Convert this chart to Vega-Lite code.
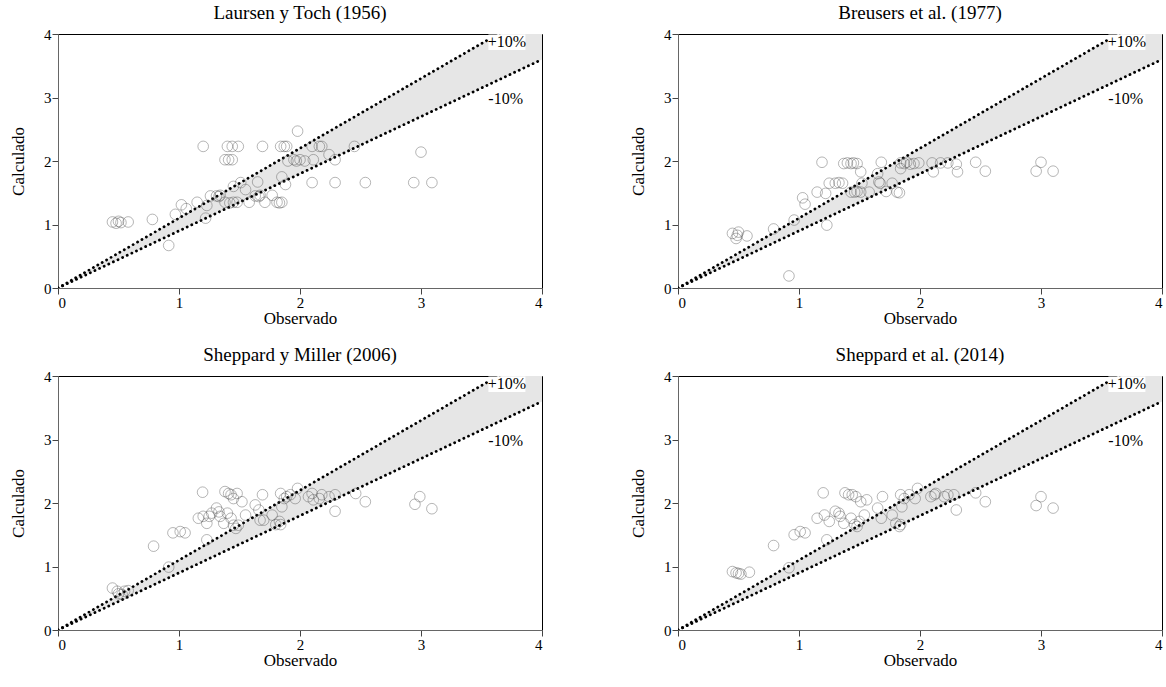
{
  "$schema": "https://vega.github.io/schema/vega-lite/v6.json",
  "padding": {"left": 9, "top": 3, "right": 0, "bottom": 0},
  "background": "white",
  "config": {
    "font": "Liberation Serif",
    "view": {"stroke": "black", "strokeWidth": 1},
    "title": {"font": "Liberation Serif", "fontSize": 19, "fontWeight": "normal", "color": "black", "offset": 4},
    "axis": {"labelFont": "Liberation Serif", "titleFont": "Liberation Serif", "labelFontSize": 15, "titleFontSize": 17, "titleFontWeight": "normal", "labelColor": "black", "titleColor": "black", "domainColor": "#666", "tickColor": "#444", "grid": false, "tickSize": 6, "labelPadding": 1, "format": "d"},
    "axisX": {"titlePadding": 0},
    "axisY": {"titlePadding": 16}
  },
  "datasets": {
    "band": [{"x": 0, "lo": 0, "hi": 0}, {"x": 4, "lo": 3.6, "hi": 4.4}],
    "lines": [{"s": "+10%", "x": 0, "y": 0}, {"s": "+10%", "x": 4, "y": 4.4}, {"s": "-10%", "x": 0, "y": 0}, {"s": "-10%", "x": 4, "y": 3.6}],
    "labels": [{"lab": "+10%", "x": 3.71, "y": 3.87}, {"lab": "-10%", "x": 3.70, "y": 2.97}],
    "ly": [
      {"x":0.45,"y":1.04},{"x":0.48,"y":1.02},{"x":0.50,"y":1.05},{"x":0.52,"y":1.03},{"x":0.58,"y":1.04},
      {"x":0.78,"y":1.08},{"x":0.915,"y":0.67},{"x":0.97,"y":1.16},{"x":1.02,"y":1.31},{"x":1.06,"y":1.25},
      {"x":1.15,"y":1.35},{"x":1.22,"y":1.10},{"x":1.23,"y":1.30},{"x":1.26,"y":1.45},{"x":1.31,"y":1.45},
      {"x":1.33,"y":1.44},{"x":1.34,"y":1.46},{"x":1.38,"y":1.35},{"x":1.42,"y":1.34},{"x":1.45,"y":1.35},
      {"x":1.48,"y":1.35},{"x":1.45,"y":1.60},{"x":1.51,"y":1.66},{"x":1.55,"y":1.55},{"x":1.58,"y":1.35},
      {"x":1.63,"y":1.45},{"x":1.66,"y":1.44},{"x":1.67,"y":1.46},{"x":1.65,"y":1.67},{"x":1.71,"y":1.35},
      {"x":1.77,"y":1.46},{"x":1.81,"y":1.35},{"x":1.83,"y":1.34},{"x":1.85,"y":1.35},{"x":1.85,"y":1.75},
      {"x":1.88,"y":1.63},{"x":1.20,"y":2.23},{"x":1.40,"y":2.23},{"x":1.44,"y":2.23},{"x":1.49,"y":2.23},
      {"x":1.38,"y":2.02},{"x":1.41,"y":2.02},{"x":1.44,"y":2.02},{"x":1.69,"y":2.23},{"x":1.84,"y":2.23},
      {"x":1.87,"y":2.23},{"x":1.89,"y":2.23},{"x":1.98,"y":2.47},{"x":1.90,"y":2.00},{"x":1.95,"y":2.02},
      {"x":1.97,"y":2.00},{"x":2.00,"y":2.02},{"x":2.10,"y":2.23},{"x":2.16,"y":2.23},{"x":2.18,"y":2.23},
      {"x":2.11,"y":2.02},{"x":2.04,"y":2.00},{"x":2.24,"y":2.10},{"x":2.29,"y":2.02},{"x":2.10,"y":1.66},
      {"x":2.29,"y":1.66},{"x":2.54,"y":1.66},{"x":2.45,"y":2.23},{"x":3.00,"y":2.14},{"x":2.94,"y":1.66},
      {"x":3.09,"y":1.66}
    ],
    "br": [
      {"x":0.45,"y":0.86},{"x":0.49,"y":0.83},{"x":0.48,"y":0.78},{"x":0.50,"y":0.88},{"x":0.57,"y":0.82},
      {"x":0.79,"y":0.93},{"x":0.917,"y":0.19},{"x":0.96,"y":1.07},{"x":1.03,"y":1.42},{"x":1.05,"y":1.32},
      {"x":1.15,"y":1.51},{"x":1.19,"y":1.98},{"x":1.22,"y":1.49},{"x":1.23,"y":0.99},{"x":1.25,"y":1.65},
      {"x":1.30,"y":1.65},{"x":1.33,"y":1.66},{"x":1.36,"y":1.65},{"x":1.37,"y":1.96},{"x":1.40,"y":1.97},
      {"x":1.43,"y":1.96},{"x":1.45,"y":1.97},{"x":1.48,"y":1.96},{"x":1.43,"y":1.51},{"x":1.46,"y":1.51},
      {"x":1.48,"y":1.52},{"x":1.51,"y":1.51},{"x":1.51,"y":1.83},{"x":1.52,"y":1.65},{"x":1.58,"y":1.51},
      {"x":1.68,"y":1.98},{"x":1.66,"y":1.67},{"x":1.67,"y":1.65},{"x":1.65,"y":1.80},{"x":1.72,"y":1.52},
      {"x":1.77,"y":1.65},{"x":1.81,"y":1.51},{"x":1.83,"y":1.50},{"x":1.84,"y":1.97},{"x":1.87,"y":1.96},
      {"x":1.89,"y":1.98},{"x":1.92,"y":1.95},{"x":1.95,"y":1.96},{"x":1.99,"y":1.97},{"x":1.84,"y":1.88},
      {"x":2.10,"y":1.97},{"x":2.11,"y":1.83},{"x":2.17,"y":1.97},{"x":2.23,"y":1.97},{"x":2.30,"y":1.95},
      {"x":2.31,"y":1.83},{"x":2.46,"y":1.98},{"x":2.54,"y":1.84},{"x":3.00,"y":1.98},{"x":2.96,"y":1.84},
      {"x":3.10,"y":1.84}
    ],
    "sm": [
      {"x":0.45,"y":0.66},{"x":0.49,"y":0.61},{"x":0.50,"y":0.57},{"x":0.53,"y":0.56},{"x":0.55,"y":0.61},
      {"x":0.58,"y":0.62},{"x":0.79,"y":1.32},{"x":0.915,"y":0.99},{"x":0.95,"y":1.53},{"x":1.01,"y":1.55},
      {"x":1.05,"y":1.53},{"x":1.16,"y":1.76},{"x":1.20,"y":1.79},{"x":1.23,"y":1.68},{"x":1.25,"y":1.79},
      {"x":1.195,"y":2.17},{"x":1.23,"y":1.42},{"x":1.27,"y":1.84},{"x":1.31,"y":1.92},{"x":1.33,"y":1.86},
      {"x":1.34,"y":1.79},{"x":1.37,"y":1.68},{"x":1.38,"y":2.18},{"x":1.41,"y":2.15},{"x":1.43,"y":2.13},
      {"x":1.45,"y":2.07},{"x":1.48,"y":2.15},{"x":1.52,"y":2.02},{"x":1.40,"y":1.84},{"x":1.43,"y":1.76},
      {"x":1.45,"y":1.65},{"x":1.47,"y":1.60},{"x":1.49,"y":1.65},{"x":1.55,"y":1.81},{"x":1.63,"y":1.97},
      {"x":1.66,"y":1.89},{"x":1.67,"y":1.73},{"x":1.69,"y":2.13},{"x":1.70,"y":1.73},{"x":1.77,"y":1.81},
      {"x":1.80,"y":1.66},{"x":1.83,"y":1.71},{"x":1.84,"y":1.66},{"x":1.84,"y":2.15},{"x":1.87,"y":2.07},
      {"x":1.89,"y":2.10},{"x":1.92,"y":2.13},{"x":1.98,"y":2.23},{"x":1.96,"y":2.07},{"x":1.85,"y":1.94},
      {"x":2.07,"y":2.10},{"x":2.10,"y":2.15},{"x":2.11,"y":2.05},{"x":2.16,"y":2.07},{"x":2.18,"y":2.13},
      {"x":2.24,"y":2.10},{"x":2.29,"y":2.13},{"x":2.29,"y":1.87},{"x":2.46,"y":2.15},{"x":2.54,"y":2.02},
      {"x":2.95,"y":1.98},{"x":2.99,"y":2.10},{"x":3.09,"y":1.91}
    ],
    "sh": [
      {"x":0.45,"y":0.92},{"x":0.48,"y":0.90},{"x":0.50,"y":0.89},{"x":0.52,"y":0.88},{"x":0.59,"y":0.91},
      {"x":0.79,"y":1.33},{"x":0.917,"y":0.98},{"x":0.96,"y":1.50},{"x":1.01,"y":1.55},{"x":1.05,"y":1.53},
      {"x":1.15,"y":1.76},{"x":1.21,"y":1.81},{"x":1.23,"y":1.42},{"x":1.25,"y":1.71},{"x":1.20,"y":2.16},
      {"x":1.30,"y":1.87},{"x":1.33,"y":1.84},{"x":1.34,"y":1.79},{"x":1.37,"y":1.68},{"x":1.38,"y":2.16},
      {"x":1.41,"y":2.13},{"x":1.44,"y":2.13},{"x":1.47,"y":2.10},{"x":1.51,"y":2.02},{"x":1.43,"y":1.76},
      {"x":1.46,"y":1.66},{"x":1.48,"y":1.63},{"x":1.50,"y":1.71},{"x":1.54,"y":1.81},{"x":1.56,"y":2.05},
      {"x":1.65,"y":1.92},{"x":1.68,"y":1.76},{"x":1.69,"y":2.10},{"x":1.77,"y":1.81},{"x":1.80,"y":1.68},
      {"x":1.83,"y":1.63},{"x":1.84,"y":1.66},{"x":1.84,"y":2.13},{"x":1.87,"y":2.07},{"x":1.91,"y":2.13},
      {"x":1.98,"y":2.23},{"x":1.96,"y":2.07},{"x":1.85,"y":1.94},{"x":2.09,"y":2.10},{"x":2.12,"y":2.13},
      {"x":2.13,"y":2.15},{"x":2.20,"y":2.10},{"x":2.23,"y":2.13},{"x":2.28,"y":2.13},{"x":2.30,"y":1.89},
      {"x":2.46,"y":2.16},{"x":2.54,"y":2.02},{"x":2.96,"y":1.96},{"x":3.00,"y":2.10},{"x":3.10,"y":1.92}
    ]
  },
  "spacing": {"row": 18, "column": 86},
  "columns": 2,
  "concat": [
    {
      "width": 484, "height": 254,
      "title": "Laursen y Toch (1956)",
      "layer": [
        {"data": {"name": "band"}, "mark": {"type": "area", "color": "#e6e6e6", "clip": true, "opacity": 1},
         "encoding": {
           "x": {"field": "x", "type": "quantitative", "scale": {"domain": [0, 4], "nice": false}, "axis": {"values": [0, 1, 2, 3, 4], "title": "Observado", "format": "d", "labelFont": "Liberation Serif", "labelFontSize": 15}},
           "y": {"field": "lo", "type": "quantitative", "scale": {"domain": [0, 4], "nice": false}, "axis": {"values": [0, 1, 2, 3, 4], "title": "Calculado", "format": "d", "labelFont": "Liberation Serif", "labelFontSize": 15}},
           "y2": {"field": "hi"}}},
        {"data": {"name": "lines"}, "mark": {"type": "line", "color": "black", "strokeWidth": 2.8, "strokeDash": [0.1, 5], "strokeCap": "round", "clip": true},
         "encoding": {"x": {"field": "x", "type": "quantitative"}, "y": {"field": "y", "type": "quantitative"}, "detail": {"field": "s"}}},
        {"data": {"name": "ly"}, "mark": {"type": "point", "shape": "circle", "filled": false, "size": 113, "stroke": "#444", "strokeOpacity": 0.55, "strokeWidth": 1},
         "encoding": {"x": {"field": "x", "type": "quantitative"}, "y": {"field": "y", "type": "quantitative"}}},
        {"data": {"name": "labels"}, "mark": {"type": "point", "shape": "M-1,-0.42L1,-0.42L1,0.42L-1,0.42Z", "filled": true, "fill": "white", "opacity": 1, "size": 1369, "strokeWidth": 0},
         "encoding": {"x": {"field": "x", "type": "quantitative"}, "y": {"field": "y", "type": "quantitative"}}},
        {"data": {"name": "labels"}, "mark": {"type": "text", "font": "Liberation Serif", "fontSize": 16, "color": "black"},
         "encoding": {"x": {"field": "x", "type": "quantitative"}, "y": {"field": "y", "type": "quantitative"}, "text": {"field": "lab"}}}
      ]
    },
    {
      "width": 484, "height": 254,
      "title": "Breusers et al. (1977)",
      "layer": [
        {"data": {"name": "band"}, "mark": {"type": "area", "color": "#e6e6e6", "clip": true, "opacity": 1},
         "encoding": {
           "x": {"field": "x", "type": "quantitative", "scale": {"domain": [0, 4], "nice": false}, "axis": {"values": [0, 1, 2, 3, 4], "title": "Observado", "format": "d", "labelFont": "Liberation Serif", "labelFontSize": 15}},
           "y": {"field": "lo", "type": "quantitative", "scale": {"domain": [0, 4], "nice": false}, "axis": {"values": [0, 1, 2, 3, 4], "title": "Calculado", "format": "d", "labelFont": "Liberation Serif", "labelFontSize": 15}},
           "y2": {"field": "hi"}}},
        {"data": {"name": "lines"}, "mark": {"type": "line", "color": "black", "strokeWidth": 2.8, "strokeDash": [0.1, 5], "strokeCap": "round", "clip": true},
         "encoding": {"x": {"field": "x", "type": "quantitative"}, "y": {"field": "y", "type": "quantitative"}, "detail": {"field": "s"}}},
        {"data": {"name": "br"}, "mark": {"type": "point", "shape": "circle", "filled": false, "size": 113, "stroke": "#444", "strokeOpacity": 0.55, "strokeWidth": 1},
         "encoding": {"x": {"field": "x", "type": "quantitative"}, "y": {"field": "y", "type": "quantitative"}}},
        {"data": {"name": "labels"}, "mark": {"type": "point", "shape": "M-1,-0.42L1,-0.42L1,0.42L-1,0.42Z", "filled": true, "fill": "white", "opacity": 1, "size": 1369, "strokeWidth": 0},
         "encoding": {"x": {"field": "x", "type": "quantitative"}, "y": {"field": "y", "type": "quantitative"}}},
        {"data": {"name": "labels"}, "mark": {"type": "text", "font": "Liberation Serif", "fontSize": 16, "color": "black"},
         "encoding": {"x": {"field": "x", "type": "quantitative"}, "y": {"field": "y", "type": "quantitative"}, "text": {"field": "lab"}}}
      ]
    },
    {
      "width": 484, "height": 254,
      "title": "Sheppard y Miller (2006)",
      "layer": [
        {"data": {"name": "band"}, "mark": {"type": "area", "color": "#e6e6e6", "clip": true, "opacity": 1},
         "encoding": {
           "x": {"field": "x", "type": "quantitative", "scale": {"domain": [0, 4], "nice": false}, "axis": {"values": [0, 1, 2, 3, 4], "title": "Observado", "format": "d", "labelFont": "Liberation Serif", "labelFontSize": 15}},
           "y": {"field": "lo", "type": "quantitative", "scale": {"domain": [0, 4], "nice": false}, "axis": {"values": [0, 1, 2, 3, 4], "title": "Calculado", "format": "d", "labelFont": "Liberation Serif", "labelFontSize": 15}},
           "y2": {"field": "hi"}}},
        {"data": {"name": "lines"}, "mark": {"type": "line", "color": "black", "strokeWidth": 2.8, "strokeDash": [0.1, 5], "strokeCap": "round", "clip": true},
         "encoding": {"x": {"field": "x", "type": "quantitative"}, "y": {"field": "y", "type": "quantitative"}, "detail": {"field": "s"}}},
        {"data": {"name": "sm"}, "mark": {"type": "point", "shape": "circle", "filled": false, "size": 113, "stroke": "#444", "strokeOpacity": 0.55, "strokeWidth": 1},
         "encoding": {"x": {"field": "x", "type": "quantitative"}, "y": {"field": "y", "type": "quantitative"}}},
        {"data": {"name": "labels"}, "mark": {"type": "point", "shape": "M-1,-0.42L1,-0.42L1,0.42L-1,0.42Z", "filled": true, "fill": "white", "opacity": 1, "size": 1369, "strokeWidth": 0},
         "encoding": {"x": {"field": "x", "type": "quantitative"}, "y": {"field": "y", "type": "quantitative"}}},
        {"data": {"name": "labels"}, "mark": {"type": "text", "font": "Liberation Serif", "fontSize": 16, "color": "black"},
         "encoding": {"x": {"field": "x", "type": "quantitative"}, "y": {"field": "y", "type": "quantitative"}, "text": {"field": "lab"}}}
      ]
    },
    {
      "width": 484, "height": 254,
      "title": "Sheppard et al. (2014)",
      "layer": [
        {"data": {"name": "band"}, "mark": {"type": "area", "color": "#e6e6e6", "clip": true, "opacity": 1},
         "encoding": {
           "x": {"field": "x", "type": "quantitative", "scale": {"domain": [0, 4], "nice": false}, "axis": {"values": [0, 1, 2, 3, 4], "title": "Observado", "format": "d", "labelFont": "Liberation Serif", "labelFontSize": 15}},
           "y": {"field": "lo", "type": "quantitative", "scale": {"domain": [0, 4], "nice": false}, "axis": {"values": [0, 1, 2, 3, 4], "title": "Calculado", "format": "d", "labelFont": "Liberation Serif", "labelFontSize": 15}},
           "y2": {"field": "hi"}}},
        {"data": {"name": "lines"}, "mark": {"type": "line", "color": "black", "strokeWidth": 2.8, "strokeDash": [0.1, 5], "strokeCap": "round", "clip": true},
         "encoding": {"x": {"field": "x", "type": "quantitative"}, "y": {"field": "y", "type": "quantitative"}, "detail": {"field": "s"}}},
        {"data": {"name": "sh"}, "mark": {"type": "point", "shape": "circle", "filled": false, "size": 113, "stroke": "#444", "strokeOpacity": 0.55, "strokeWidth": 1},
         "encoding": {"x": {"field": "x", "type": "quantitative"}, "y": {"field": "y", "type": "quantitative"}}},
        {"data": {"name": "labels"}, "mark": {"type": "point", "shape": "M-1,-0.42L1,-0.42L1,0.42L-1,0.42Z", "filled": true, "fill": "white", "opacity": 1, "size": 1369, "strokeWidth": 0},
         "encoding": {"x": {"field": "x", "type": "quantitative"}, "y": {"field": "y", "type": "quantitative"}}},
        {"data": {"name": "labels"}, "mark": {"type": "text", "font": "Liberation Serif", "fontSize": 16, "color": "black"},
         "encoding": {"x": {"field": "x", "type": "quantitative"}, "y": {"field": "y", "type": "quantitative"}, "text": {"field": "lab"}}}
      ]
    }
  ]
}
